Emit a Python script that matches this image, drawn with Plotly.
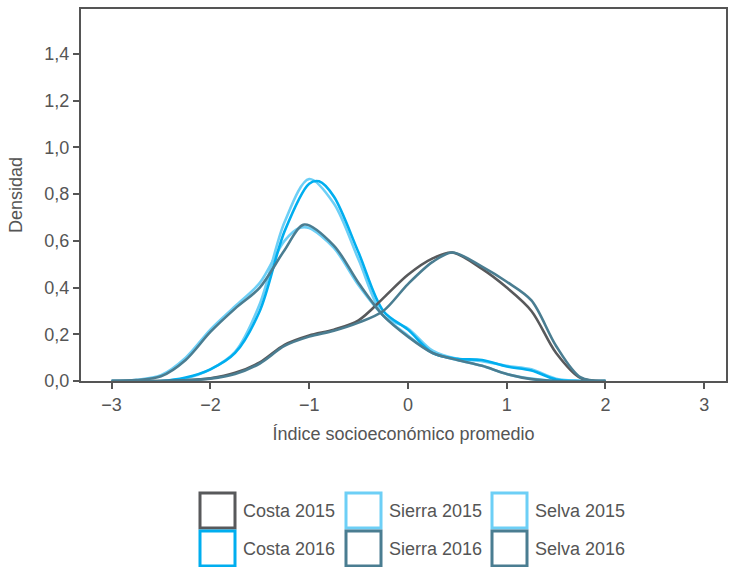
import plotly.graph_objects as go

# ---- data ----
x_costa15 = [-3.0, -2.5, -2.25, -2.0, -1.75, -1.5, -1.25, -1.0, -0.75, -0.5, -0.25, 0.0, 0.25, 0.45, 0.75, 1.0, 1.25, 1.5, 1.75, 2.0]
y_costa15 = [0.0, 0.0, 0.003, 0.012, 0.035, 0.08, 0.155, 0.195, 0.22, 0.26, 0.355, 0.455, 0.525, 0.55, 0.48, 0.40, 0.30, 0.12, 0.012, 0.0]

x_sierra16 = [-3.0, -2.5, -2.25, -2.0, -1.75, -1.5, -1.25, -1.0, -0.75, -0.5, -0.25, 0.0, 0.25, 0.45, 0.75, 1.0, 1.25, 1.5, 1.75, 2.0]
y_sierra16 = [0.0, 0.0, 0.003, 0.01, 0.03, 0.075, 0.15, 0.19, 0.215, 0.25, 0.30, 0.415, 0.51, 0.55, 0.49, 0.425, 0.345, 0.15, 0.015, 0.0]

x_costa16 = [-3.0, -2.5, -2.25, -2.0, -1.75, -1.5, -1.25, -1.0, -0.9, -0.75, -0.5, -0.25, 0.0, 0.25, 0.5, 0.75, 1.0, 1.25, 1.5, 1.75, 2.0]
y_costa16 = [0.0, 0.0, 0.015, 0.05, 0.12, 0.30, 0.64, 0.845, 0.855, 0.79, 0.55, 0.30, 0.22, 0.12, 0.095, 0.09, 0.062, 0.045, 0.006, 0.0, 0.0]

x_sierra15 = [-3.0, -2.5, -2.25, -2.0, -1.75, -1.5, -1.25, -1.0, -0.75, -0.5, -0.25, 0.0, 0.25, 0.5, 0.75, 1.0, 1.25, 1.5, 1.75, 2.0]
y_sierra15 = [0.0, 0.0, 0.012, 0.05, 0.125, 0.33, 0.68, 0.865, 0.76, 0.52, 0.28, 0.225, 0.13, 0.095, 0.085, 0.065, 0.05, 0.01, 0.0, 0.0]

x_selva15 = [-3.0, -2.75, -2.5, -2.25, -2.0, -1.75, -1.5, -1.25, -1.1, -1.0, -0.75, -0.5, -0.25, 0.0, 0.25, 0.5, 0.75, 1.0, 1.25, 1.5, 2.0]
y_selva15 = [0.0, 0.005, 0.025, 0.10, 0.22, 0.32, 0.42, 0.60, 0.655, 0.655, 0.57, 0.41, 0.28, 0.195, 0.12, 0.09, 0.065, 0.03, 0.01, 0.0, 0.0]

x_selva16 = [-3.0, -2.75, -2.5, -2.25, -2.0, -1.75, -1.5, -1.25, -1.05, -0.75, -0.5, -0.25, 0.0, 0.25, 0.5, 0.75, 1.0, 1.25, 1.5, 2.0]
y_selva16 = [0.0, 0.004, 0.02, 0.09, 0.21, 0.31, 0.40, 0.56, 0.67, 0.58, 0.42, 0.28, 0.19, 0.12, 0.09, 0.065, 0.03, 0.008, 0.0, 0.0]

x_ticks = [-3, -2, -1, 0, 1, 2, 3]
y_ticks = [0.0, 0.2, 0.4, 0.6, 0.8, 1.0, 1.2, 1.4]

legend_labels = ["Costa 2015", "Sierra 2015", "Selva 2015", "Costa 2016", "Sierra 2016", "Selva 2016"]

# ---- styles ----
C_GRAY = "#58595B"
C_BLUE = "#00AEEF"
C_LIGHT = "#6DCFF6"
C_STEEL = "#4A7D91"
legend_colors = [C_GRAY, C_LIGHT, C_LIGHT, C_BLUE, C_STEEL, C_STEEL]
FONT = "Liberation Sans, Arial, sans-serif"
TXT = "#555555"

series = [
    ("Selva 2015", x_selva15, y_selva15, C_LIGHT),
    ("Sierra 2015", x_sierra15, y_sierra15, C_LIGHT),
    ("Costa 2016", x_costa16, y_costa16, C_BLUE),
    ("Costa 2015", x_costa15, y_costa15, C_GRAY),
    ("Sierra 2016", x_sierra16, y_sierra16, C_STEEL),
    ("Selva 2016", x_selva16, y_selva16, C_STEEL),
]

fig = go.Figure()
for name, xs, ys, col in series:
    fig.add_trace(go.Scatter(x=xs, y=ys, mode="lines", name=name,
                             line=dict(color=col, width=2.6, shape="spline", smoothing=0.9),
                             showlegend=False, hoverinfo="skip"))

W, H = 731, 567
ML, MR, MT, MB = 81, 5, 9, 186
PW = W - ML - MR
PH = H - MT - MB

def px(xp):
    return (xp - ML) / PW

def py(yp):
    return (H - MB - yp) / PH

shapes = []
annotations = []
box_x = [200, 346, 492]
box_y = [493, 531]
bs = 35
for i, lab in enumerate(legend_labels):
    r, c = divmod(i, 3)
    x0 = box_x[c]
    y0 = box_y[r]
    shapes.append(dict(type="rect", xref="paper", yref="paper",
                       x0=px(x0), x1=px(x0 + bs), y0=py(y0 + bs), y1=py(y0),
                       line=dict(color=legend_colors[i], width=3), fillcolor="rgba(0,0,0,0)"))
    annotations.append(dict(xref="paper", yref="paper", x=px(x0 + bs + 6), y=py(y0 + bs / 2),
                            text=lab, showarrow=False, xanchor="left", yanchor="middle",
                            font=dict(family=FONT, size=18, color=TXT)))

fig.update_layout(
    width=W, height=H,
    margin=dict(l=ML, r=MR, t=MT, b=MB, autoexpand=False),
    paper_bgcolor="white", plot_bgcolor="white",
    separators=",.",
    font=dict(family=FONT, size=17, color=TXT),
    shapes=shapes, annotations=annotations,
    showlegend=False,
)
fig.update_xaxes(range=[-3.31, 3.22], tickvals=x_ticks, ticks="outside", ticklen=6, tickwidth=2,
                 tickcolor=TXT, showline=True, linecolor=TXT, linewidth=2, mirror=True,
                 showgrid=False, zeroline=False, automargin=False,
                 title=dict(text="Índice socioeconómico promedio", font=dict(size=18, color=TXT), standoff=14),
                 tickfont=dict(size=18, color=TXT))
fig.update_yaxes(range=[0, 1.593], tickvals=y_ticks, tickformat=".1f", ticks="outside", ticklen=6,
                 tickwidth=2, tickcolor=TXT, showline=True, linecolor=TXT, linewidth=2, mirror=True,
                 showgrid=False, zeroline=False, automargin=False,
                 title=dict(text="Densidad", font=dict(size=18, color=TXT), standoff=17),
                 tickfont=dict(size=18, color=TXT))

fig.write_html("out.html", config={"displayModeBar": False},
               post_script="document.body.style.margin='0';document.body.style.overflow='hidden';")
